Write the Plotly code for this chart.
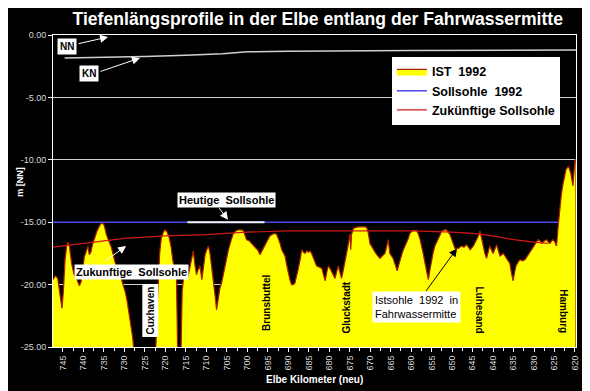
import plotly.graph_objects as go

# ---------------- data ----------------
profile_km = [
    747.44, 746.9, 746.3, 745.8, 745.24, 744.9, 744.5, 744.1, 743.8, 743.4,
    742.9, 742.3, 741.6, 741.0, 740.6, 740.2, 739.8, 739.3, 738.9, 738.6,
    738.2, 737.8, 737.3, 736.7, 736.1, 735.4, 734.9, 734.4, 733.8, 733.2,
    732.6, 732.0, 731.4, 730.8, 730.3, 729.8, 729.4, 728.9, 728.4, 728.0,
    727.6, 722.4, 722.0, 721.7, 721.4, 721.0, 720.5, 720.1, 719.6, 719.1,
    718.6, 718.2, 717.7, 717.3, 717.0, 716.2, 715.9, 715.5, 715.0, 714.5,
    714.0, 713.6, 713.2, 712.8, 712.4, 712.0, 711.55, 711.1, 710.7, 710.3,
    709.9, 709.5, 709.1, 708.7, 708.3, 707.9, 707.5, 707.1, 706.7, 706.3,
    705.9, 705.45, 705.0, 704.6, 704.0, 703.4, 702.6, 701.8, 701.0, 700.6,
    700.2, 699.5, 698.9, 698.3, 697.7, 697.3, 696.9, 696.3, 695.7, 695.1,
    694.5, 693.8, 693.2, 692.8, 692.4, 692.0, 691.6, 690.8, 690.4, 690.0,
    689.6, 689.2, 688.8, 688.4, 688.0, 687.6, 687.1, 686.7, 686.3, 685.9,
    685.5, 685.1, 684.7, 684.3, 683.7, 683.1, 682.4, 681.8, 681.4, 681.0,
    680.6, 680.2, 679.8, 679.4, 679.0, 678.6, 678.2, 677.8, 677.4, 677.0,
    676.6, 676.2, 675.7, 675.3, 674.9, 674.75, 674.55, 674.1, 673.3, 672.0,
    670.9, 670.5, 670.05, 669.6, 669.2, 668.8, 668.4, 668.0, 667.6, 667.0,
    666.4, 666.0, 665.6, 665.2, 664.8, 664.4, 663.9, 663.4, 663.0, 662.7,
    662.3, 661.9, 661.5, 661.1, 660.7, 660.3, 659.5, 658.7, 658.3, 657.8,
    657.4, 657.0, 656.6, 656.2, 655.8, 655.4, 655.0, 654.6, 654.2, 653.8,
    653.4, 652.9, 652.5, 651.7, 651.3, 650.5, 650.1, 649.7, 649.3, 648.5,
    647.7, 647.1, 646.5, 646.0, 645.6, 644.8, 644.0, 643.6, 643.2, 642.8,
    642.4, 642.0, 641.6, 641.2, 640.8, 640.4, 640.0, 639.5, 639.1, 638.7,
    638.3, 637.9, 637.5, 637.1, 636.7, 636.3, 635.9, 635.5, 635.1, 634.8,
    634.4, 633.9, 633.4, 632.8, 632.2, 631.8, 631.4, 631.0, 630.6, 630.2,
    629.8, 629.0, 628.5, 628.1, 627.5, 626.9, 626.5, 626.1, 625.7, 625.3,
    624.9, 624.5, 624.1, 623.7, 623.3, 622.9, 622.5, 622.2, 621.6, 621.0,
    620.5, 620.2, 620.0, 619.75, 619.75,
]
profile_m = [
    -19.6, -19.3, -19.5, -20.6, -21.9, -20.5, -18.0, -16.9, -16.6, -17.0,
    -18.3, -19.2, -19.6, -20.1, -19.8, -18.8, -17.8, -17.3, -16.9, -17.6,
    -17.4, -16.8, -16.2, -15.7, -15.3, -15.0, -15.3, -16.0, -16.5, -17.0,
    -17.8, -18.6, -19.3, -19.5, -20.0, -20.6, -21.2, -22.2, -23.4, -24.2,
    -25.6, -25.6, -22.0, -19.5, -17.5, -16.3, -15.8, -15.6, -15.8, -16.2,
    -17.0, -18.0, -19.0, -19.4, -25.6, -25.6, -20.5, -19.3, -18.9, -19.4,
    -18.6, -17.9, -17.3, -18.4, -19.2, -18.8, -18.5, -19.6, -18.6, -17.6,
    -17.2, -16.9, -17.5, -18.5, -19.6, -20.8, -22.0, -20.9, -20.3, -19.9,
    -19.2, -18.5, -17.8, -17.2, -16.5, -15.9, -15.65, -15.6, -15.65, -16.0,
    -16.4, -16.5, -16.7, -16.9, -17.1, -17.3, -17.6, -17.2, -16.9, -16.5,
    -16.1, -15.95, -15.9, -16.0, -16.3, -16.7, -17.2, -17.7, -18.4, -19.1,
    -19.6, -20.0, -20.0, -19.9, -19.4, -18.8, -18.0, -17.2, -17.4, -17.5,
    -17.3, -17.4, -17.3, -17.5, -18.0, -18.5, -18.6, -18.7, -19.2, -19.7,
    -19.0, -18.5, -18.7, -19.0, -19.3, -19.5, -19.0, -18.5, -19.0, -19.5,
    -18.9, -18.3, -17.4, -16.7, -15.9, -17.2, -16.0, -15.5, -15.4, -15.35,
    -15.4, -15.8, -16.7, -17.0, -17.2, -17.4, -17.6, -17.8, -17.9, -17.7,
    -17.5, -17.0, -16.4, -17.5, -17.7, -17.9, -18.4, -18.9, -18.4, -18.0,
    -17.6, -17.2, -16.9, -16.7, -16.3, -15.9, -15.65, -15.65, -15.9, -16.4,
    -16.9, -17.6, -18.3, -19.0, -19.6, -18.8, -18.0, -17.4, -16.9, -16.6,
    -16.3, -16.0, -15.7, -15.6, -15.65, -16.0, -16.4, -16.8, -17.1, -17.1,
    -16.9, -17.0, -16.8, -17.0, -17.2, -16.9, -16.4, -16.1, -15.7, -16.4,
    -17.0, -17.5, -17.9, -17.4, -16.9, -17.2, -17.5, -17.1, -16.8, -17.3,
    -17.7, -17.6, -17.5, -17.7, -17.9, -18.1, -18.3, -19.1, -19.7, -19.1,
    -18.5, -18.2, -18.0, -18.1, -18.0, -17.8, -17.6, -17.4, -17.1, -16.9,
    -16.7, -16.4, -16.5, -16.7, -16.5, -16.4, -16.6, -16.7, -16.5, -16.4,
    -16.6, -16.9, -15.3, -13.7, -12.7, -11.9, -11.2, -10.8, -10.5, -11.1,
    -12.1, -11.1, -10.0, -10.0, -25.6,
]

base_km = [747.44, 619.75]
base_m = [-26.0, -26.0]

soll1992_km = [747.44, 624.2]
soll1992_m = [-15.0, -15.0]

heutige_km = [714.6, 695.8]
heutige_m = [-15.0, -15.0]

zukunft_km = [747.44, 740, 735, 730, 720, 710, 700, 690, 680, 660, 650, 645, 640, 635, 630, 626.5]
zukunft_m = [-17.0, -16.7, -16.45, -16.3, -16.1, -16.0, -15.8, -15.7, -15.7, -15.7, -15.8, -15.9, -16.1, -16.4, -16.6, -16.7]

kn_km = [744.6, 735, 725, 715, 706, 700, 690, 660, 619.75]
kn_m = [-1.85, -1.8, -1.72, -1.62, -1.5, -1.35, -1.3, -1.25, -1.2]

x_ticks = list(range(745, 619, -5))
x_ticktext = [str(v) for v in x_ticks]
x_minor = [v - 2.5 for v in x_ticks[:-1]] + [747.5]
y_ticks = [0, -5, -10, -15, -20, -25]
y_ticktext = ["0.00", "-5.00", "-10.00", "-15.00", "-20.00", "-25.00"]

FONT = "Liberation Sans, Arial, sans-serif"
NARROW = "Liberation Sans Narrow, Liberation Sans, Arial, sans-serif"

fig = go.Figure()
fig.add_trace(go.Scatter(x=base_km, y=base_m, mode="lines", line=dict(width=0, color="black"),
                         showlegend=False, hoverinfo="skip"))
fig.add_trace(go.Scatter(x=profile_km, y=profile_m, mode="lines", name="IST  1992",
                         fill="tonexty", fillcolor="#ffff00",
                         line=dict(color="#a82000", width=1.2)))
fig.add_trace(go.Scatter(x=soll1992_km, y=soll1992_m, mode="lines", name="Sollsohle  1992",
                         line=dict(color="#4a4af0", width=1.6)))
fig.add_trace(go.Scatter(x=heutige_km, y=heutige_m, mode="lines", showlegend=False,
                         line=dict(color="#f2f2ff", width=2)))
fig.add_trace(go.Scatter(x=zukunft_km, y=zukunft_m, mode="lines", name="Zukünftige Sollsohle",
                         line=dict(color="#d01818", width=1.2)))
fig.add_trace(go.Scatter(x=kn_km, y=kn_m, mode="lines", showlegend=False,
                         line=dict(color="#d0d0d0", width=1.5)))

box = dict(bgcolor="white", borderpad=2, showarrow=False)
bold10 = dict(family=FONT, size=10, color="black", weight="bold")
bold11 = dict(family=FONT, size=11, color="black", weight="bold")
annotations = [
    dict(x=744.0, y=-0.92, text="NN", font=bold10, **box),
    dict(x=738.65, y=-3.08, text="KN", font=bold10, **box),
    dict(x=705.2, y=-13.25, text="Heutige  Sollsohle", font=bold11, bgcolor="white",
         borderpad=1, showarrow=False),
    dict(x=728.3, y=-18.95, text="Zukunftige  Sollsohle", font=bold11, bgcolor="white",
         borderpad=1, showarrow=False),
    dict(x=658.7, y=-21.8, text="Istsohle  1992  in<br>Fahrwassermitte", align="left",
         bgcolor="white", font=dict(family=FONT, size=11, color="black"), borderpad=2, showarrow=False),
    dict(x=723.6, y=-22.1, text="Cuxhaven", textangle=-90, font=bold10, **box),
]
place = dict(showarrow=False, font=bold10)
annotations += [
    dict(x=695.3, y=-21.5, text="Brunsbuttel", textangle=-90, **place),
    dict(x=675.8, y=-21.8, text="Gluckstadt", textangle=-90, **place),
    dict(x=643.4, y=-22.0, text="Luhesand", textangle=90, **place),
    dict(x=622.8, y=-22.1, text="Hamburg", textangle=90, **place),
]
arrow = dict(text="", showarrow=True, arrowhead=2, arrowsize=1.6, arrowwidth=1, axref="pixel", ayref="pixel")
annotations += [
    dict(x=734.0, y=-0.16, ax=-31, ay=7, arrowcolor="white", **arrow),
    dict(x=726.2, y=-1.84, ax=-41, ay=14, arrowcolor="white", **arrow),
    dict(x=704.7, y=-14.8, ax=-10, ay=-13, arrowcolor="white", **arrow),
    dict(x=729.6, y=-16.9, ax=-22, ay=16, arrowcolor="white", **arrow),
    dict(x=648.8, y=-17.1, ax=-32, ay=44, arrowcolor="black", **arrow),
]
annotations.append(dict(xref="paper", yref="paper", x=-0.078, y=0.53, text="m [NN]", textangle=-90,
                        showarrow=False, font=dict(family=FONT, size=9, color="white", weight="bold")))
annotations.append(dict(xref="paper", yref="paper", x=0.5, y=-0.105, yanchor="middle",
                        text="Elbe Kilometer (neu)", showarrow=False,
                        font=dict(family=FONT, size=10, color="white", weight="bold")))

# the page body adds an 8 px offset, so margins are shifted to keep the plot area in place
fig.update_layout(
    width=590, height=391,
    margin=dict(l=45, r=22, t=27, b=52),
    paper_bgcolor="black", plot_bgcolor="black",
    title=dict(text="Tiefenlängsprofile in der Elbe entlang der Fahrwassermitte",
               x=0.525, xanchor="center", y=0.971, yanchor="middle",
               font=dict(family=FONT, size=17.6, color="white", weight="bold")),
    showlegend=True,
    legend=dict(x=0.648, y=0.93, xanchor="left", yanchor="top", bgcolor="white",
                font=dict(family=FONT, size=12.5, color="black", weight="bold"),
                itemwidth=30, tracegroupgap=0, traceorder="normal"),
    annotations=annotations,
    shapes=[dict(type="rect", xref="paper", yref="paper", x0=1.0115, x1=1.06, y0=-0.3, y1=1.2,
                 fillcolor="#1c1c9c", line=dict(width=0), layer="above")],
    xaxis=dict(range=[747.44, 619.75], tickvals=x_ticks, ticktext=x_ticktext, tickangle=-90,
               ticks="outside", ticklen=4, tickcolor="white", showgrid=False, zeroline=False,
               showline=True, linecolor="white", linewidth=1, mirror=True, automargin=False,
               tickfont=dict(family=NARROW, size=9, color="#d8d8d8"),
               minor=dict(ticks="outside", ticklen=3, tickcolor="white", tickvals=x_minor)),
    yaxis=dict(range=[-25, 0], tickvals=y_ticks, ticktext=y_ticktext,
               ticks="outside", ticklen=4, tickcolor="white", showgrid=True, gridcolor="#d0d0d0",
               gridwidth=1, zeroline=False, showline=True, linecolor="white", mirror=True,
               automargin=False,
               tickfont=dict(family=NARROW, size=9, color="#d8d8d8")),
)

fig.write_html("out.html")
